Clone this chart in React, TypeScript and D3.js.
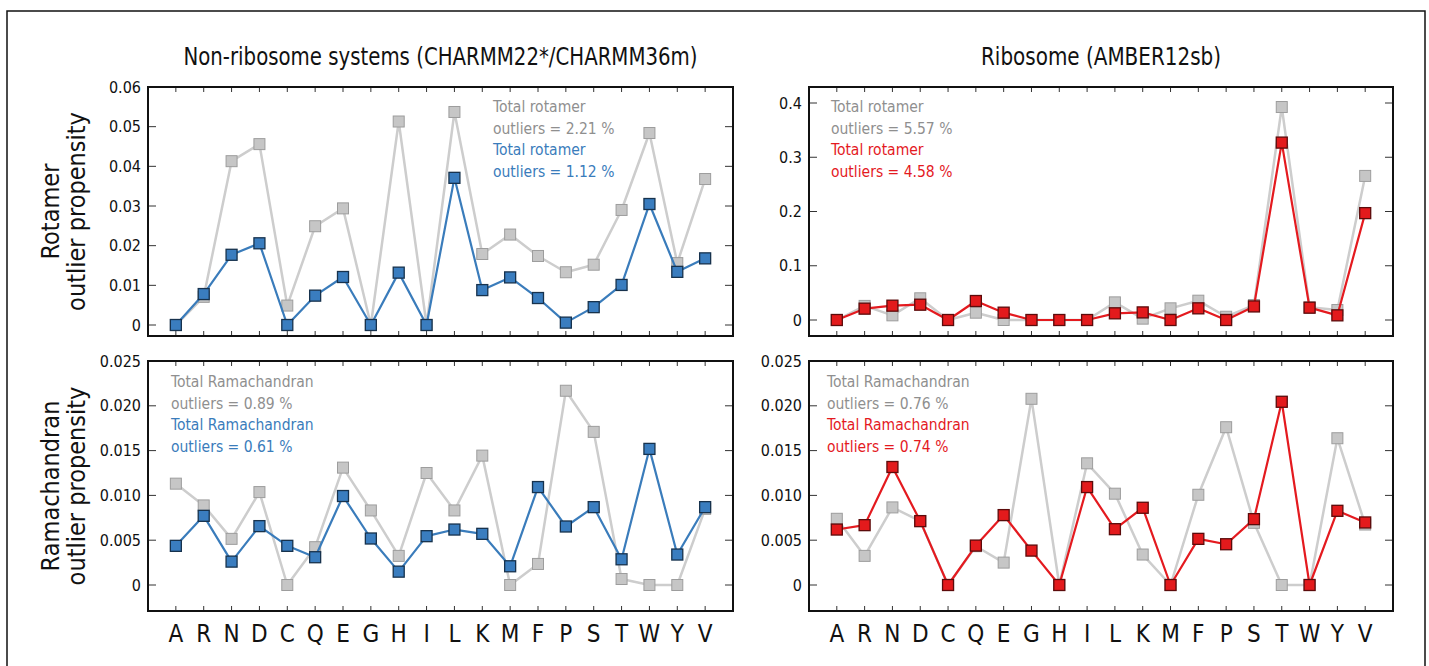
import React from 'react';
import * as d3 from 'd3';

const residues = ['A','R','N','D','C','Q','E','G','H','I','L','K','M','F','P','S','T','W','Y','V'];

// Rotamer outlier propensity, non-ribosome systems
const nonRiboRotGray = [0, 0.0071, 0.0413, 0.0456, 0.0049, 0.0249, 0.0294, 0, 0.0513, 0, 0.0537, 0.0179, 0.0228, 0.0174, 0.0133, 0.0152, 0.029, 0.0484, 0.0156, 0.0368];
const nonRiboRotBlue = [0, 0.0078, 0.0177, 0.0206, 0, 0.0074, 0.0121, 0, 0.0132, 0, 0.0371, 0.0088, 0.012, 0.0068, 0.0006, 0.0045, 0.0101, 0.0305, 0.0134, 0.0168];
// Rotamer outlier propensity, ribosome
const riboRotGray = [0, 0.026, 0.0086, 0.040, 0, 0.0135, 0, 0, 0, 0, 0.0325, 0.0025, 0.0215, 0.0356, 0.006, 0.0276, 0.3926, 0.0233, 0.0184, 0.2656];
const riboRotRed = [0, 0.0209, 0.0264, 0.0282, 0, 0.035, 0.0135, 0, 0, 0, 0.0123, 0.014, 0, 0.0215, 0, 0.025, 0.327, 0.0227, 0.0086, 0.197];
// Ramachandran outlier propensity, non-ribosome systems
const nonRiboRamaGray = [0.01131, 0.00888, 0.00515, 0.01037, 0, 0.00422, 0.0131, 0.00832, 0.00325, 0.0125, 0.00832, 0.01444, 0, 0.00235, 0.02168, 0.01709, 0.00067, 0, 0, 0.0085];
const nonRiboRamaBlue = [0.00437, 0.00772, 0.00261, 0.00657, 0.00437, 0.0031, 0.00993, 0.00519, 0.00149, 0.00545, 0.00619, 0.00571, 0.00209, 0.01093, 0.00653, 0.00869, 0.00287, 0.01519, 0.0034, 0.00869];
// Ramachandran outlier propensity, ribosome
const riboRamaGray = [0.00739, 0.00325, 0.00866, 0.00713, 0, 0.00433, 0.0025, 0.02078, 0, 0.01358, 0.01019, 0.0034, 0, 0.01007, 0.01761, 0.00694, 0, 0, 0.01638, 0.00675];
const riboRamaRed = [0.00619, 0.00668, 0.01317, 0.00713, 0, 0.0044, 0.0078, 0.00384, 0, 0.01093, 0.00623, 0.00862, 0, 0.00515, 0.00455, 0.00735, 0.02045, 0, 0.00828, 0.00698];

const rotLeftTicks = [0, 0.01, 0.02, 0.03, 0.04, 0.05, 0.06];
const rotLeftTickLabels = ['0', '0.01', '0.02', '0.03', '0.04', '0.05', '0.06'];
const rotRightTicks = [0, 0.1, 0.2, 0.3, 0.4];
const rotRightTickLabels = ['0', '0.1', '0.2', '0.3', '0.4'];
const ramaTicks = [0, 0.005, 0.01, 0.015, 0.02, 0.025];
const ramaTickLabels = ['0', '0.005', '0.010', '0.015', '0.020', '0.025'];

const titles = ['Non-ribosome systems (CHARMM22*/CHARMM36m)', 'Ribosome (AMBER12sb)'];
const rowLabels = [['Rotamer', 'outlier propensity'], ['Ramachandran', 'outlier propensity']];
const annRotLeft = ['Total rotamer', 'outliers = 2.21 %', 'Total rotamer', 'outliers = 1.12 %'];
const annRotRight = ['Total rotamer', 'outliers = 5.57 %', 'Total rotamer', 'outliers = 4.58 %'];
const annRamaLeft = ['Total Ramachandran', 'outliers = 0.89 %', 'Total Ramachandran', 'outliers = 0.61 %'];
const annRamaRight = ['Total Ramachandran', 'outliers = 0.76 %', 'Total Ramachandran', 'outliers = 0.74 %'];

const FONT = "'Liberation Sans Narrow', 'DejaVu Sans Condensed', 'Roboto Condensed', 'Arial Narrow', sans-serif";

const GRAY_LINE = '#cdcdcd';
const GRAY_FILL = '#c6c6c6';
const GRAY_STROKE = '#9d9d9d';
const GRAY_TEXT = '#8f8f8f';

type PanelProps = {
  x0: number; x1: number; top: number; bottom: number;
  zeroY: number; maxY: number; maxVal: number;
  ticks: number[]; tickLabels: string[];
  gray: number[]; main: number[];
  lineColor: string; fillColor: string; strokeColor: string;
  ann: string[]; annX: number; annY: number;
  showXLabels: boolean;
};

function Panel(p: PanelProps) {
  const x = d3.scalePoint<string>().domain(residues).range([p.x0, p.x1]).padding(1);
  const y = d3.scaleLinear().domain([0, p.maxVal]).range([p.zeroY, p.maxY]);
  const line = d3.line<number>().x((_, i) => x(residues[i]) as number).y(d => y(d));
  const ms = 11;
  const tk = 8;
  const xt = 5;
  return (
    <g>
      {p.ticks.map((t, i) => (
        <g key={'yt' + i}>
          <line x1={p.x0} x2={p.x0 + tk} y1={y(t)} y2={y(t)} stroke="#333" strokeWidth={1} />
          <line x1={p.x1 - tk} x2={p.x1} y1={y(t)} y2={y(t)} stroke="#333" strokeWidth={1} />
          <text x={p.x0 - 7} y={y(t)} dy="0.35em" textAnchor="end" fontSize={16} fontFamily={FONT} fill="#111">{p.tickLabels[i]}</text>
        </g>
      ))}
      {residues.map(r => (
        <g key={'xt' + r}>
          <line x1={x(r)} x2={x(r)} y1={p.top} y2={p.top + xt} stroke="#333" strokeWidth={1} />
          <line x1={x(r)} x2={x(r)} y1={p.bottom} y2={p.bottom - xt} stroke="#333" strokeWidth={1} />
          {p.showXLabels && (
            <text x={x(r)} y={p.bottom + 31} textAnchor="middle" fontSize={24} fontFamily={FONT} fill="#111">{r}</text>
          )}
        </g>
      ))}
      <path d={line(p.gray) || ''} fill="none" stroke={GRAY_LINE} strokeWidth={2.5} strokeLinejoin="round" />
      {p.gray.map((v, i) => (
        <rect key={'g' + i} x={(x(residues[i]) as number) - ms / 2} y={y(v) - ms / 2} width={ms} height={ms}
          fill={GRAY_FILL} stroke={GRAY_STROKE} strokeWidth={1} />
      ))}
      <path d={line(p.main) || ''} fill="none" stroke={p.lineColor} strokeWidth={2.2} strokeLinejoin="round" />
      {p.main.map((v, i) => (
        <rect key={'m' + i} x={(x(residues[i]) as number) - ms / 2} y={y(v) - ms / 2} width={ms} height={ms}
          fill={p.fillColor} stroke={p.strokeColor} strokeWidth={1.3} />
      ))}
      {p.ann.map((s, i) => (
        <text key={'a' + i} x={p.annX} y={p.annY + i * 21.5} fontSize={15.5} fontFamily={FONT}
          fill={i < 2 ? GRAY_TEXT : p.lineColor}>{s}</text>
      ))}
      <rect x={p.x0} y={p.top} width={p.x1 - p.x0} height={p.bottom - p.top} fill="none" stroke="#111" strokeWidth={2} />
    </g>
  );
}

export default function App() {
  const W = 1429, H = 666;
  const L = { x0: 148, x1: 733 };
  const R = { x0: 809, x1: 1393 };
  const topRow = { top: 87, bottom: 336 };
  const botRow = { top: 361, bottom: 611 };
  const BLUE = '#3a7cbb';
  const BLUE_FILL = '#3a7dbf';
  const BLUE_STROKE = '#17324d';
  const RED = '#e41a1f';
  const RED_FILL = '#e31a1c';
  const RED_STROKE = '#5c0b0b';
  return (
    <svg width={W} height={H} style={{ position: 'absolute', left: 0, top: 0, background: '#fff' }}>
      <rect x={0} y={0} width={W} height={H} fill="#fff" />
      <path d={`M7,${H} V11 H1425 V${H}`} fill="none" stroke="#111" strokeWidth={1.5} />
      <text x={(L.x0 + L.x1) / 2} y={65} textAnchor="middle" fontSize={24} fontFamily={FONT} fill="#111"
        textLength={514} lengthAdjust="spacingAndGlyphs">{titles[0]}</text>
      <text x={(R.x0 + R.x1) / 2} y={65} textAnchor="middle" fontSize={24} fontFamily={FONT} fill="#111"
        textLength={240} lengthAdjust="spacingAndGlyphs">{titles[1]}</text>
      {rowLabels.map((lab, i) => {
        const cy = i === 0 ? (topRow.top + topRow.bottom) / 2 : (botRow.top + botRow.bottom) / 2;
        return (
          <text key={'rl' + i} transform={`translate(0,${cy}) rotate(-90)`} textAnchor="middle" fontSize={25} fontFamily={FONT} fill="#111">
            <tspan x={0} y={59}>{lab[0]}</tspan>
            <tspan x={0} y={85}>{lab[1]}</tspan>
          </text>
        );
      })}
      <Panel x0={L.x0} x1={L.x1} top={topRow.top} bottom={topRow.bottom} zeroY={325} maxY={87} maxVal={0.06}
        ticks={rotLeftTicks} tickLabels={rotLeftTickLabels} gray={nonRiboRotGray} main={nonRiboRotBlue}
        lineColor={BLUE} fillColor={BLUE_FILL} strokeColor={BLUE_STROKE} ann={annRotLeft} annX={493} annY={112} showXLabels={false} />
      <Panel x0={R.x0} x1={R.x1} top={topRow.top} bottom={topRow.bottom} zeroY={320} maxY={103} maxVal={0.4}
        ticks={rotRightTicks} tickLabels={rotRightTickLabels} gray={riboRotGray} main={riboRotRed}
        lineColor={RED} fillColor={RED_FILL} strokeColor={RED_STROKE} ann={annRotRight} annX={831} annY={112} showXLabels={false} />
      <Panel x0={L.x0} x1={L.x1} top={botRow.top} bottom={botRow.bottom} zeroY={585} maxY={361} maxVal={0.025}
        ticks={ramaTicks} tickLabels={ramaTickLabels} gray={nonRiboRamaGray} main={nonRiboRamaBlue}
        lineColor={BLUE} fillColor={BLUE_FILL} strokeColor={BLUE_STROKE} ann={annRamaLeft} annX={171} annY={387} showXLabels={true} />
      <Panel x0={R.x0} x1={R.x1} top={botRow.top} bottom={botRow.bottom} zeroY={585} maxY={361} maxVal={0.025}
        ticks={ramaTicks} tickLabels={ramaTickLabels} gray={riboRamaGray} main={riboRamaRed}
        lineColor={RED} fillColor={RED_FILL} strokeColor={RED_STROKE} ann={annRamaRight} annX={827} annY={387} showXLabels={true} />
    </svg>
  );
}
